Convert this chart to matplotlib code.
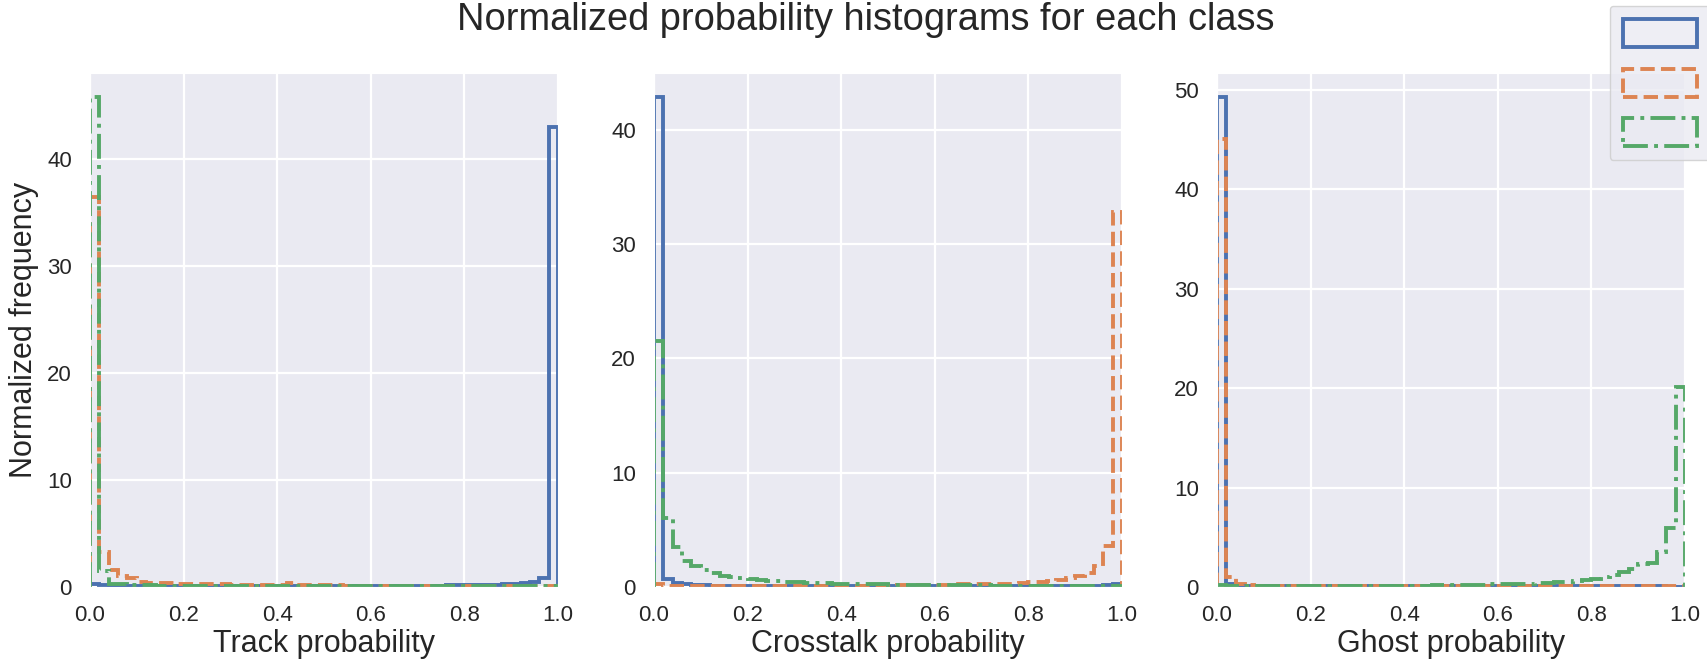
import numpy as np
import matplotlib
matplotlib.use("Agg")
import matplotlib.pyplot as plt
import seaborn as sns

# 50 bins of width 0.02 on [0, 1]
edges = np.linspace(0, 1, 51)
centers = (edges[:-1] + edges[1:]) / 2

# normalized frequency per bin
# --- track probability panel
track_track = [0.3, 0.15, 0.12, 0.1, 0.1, 0.1, 0.1, 0.1, 0.1, 0.1,
               0.1, 0.1, 0.1, 0.1, 0.1, 0.1, 0.1, 0.1, 0.1, 0.1,
               0.1, 0.1, 0.1, 0.1, 0.1, 0.1, 0.1, 0.1, 0.1, 0.1,
               0.1, 0.1, 0.12, 0.12, 0.12, 0.13, 0.13, 0.14, 0.15, 0.16,
               0.17, 0.18, 0.2, 0.22, 0.25, 0.3, 0.4, 0.5, 0.8, 43.0]
track_cross = [36.5, 3.3, 1.6, 1.0, 0.8, 0.5, 0.4, 0.4, 0.35, 0.32,
               0.3, 0.28, 0.26, 0.25, 0.24, 0.22, 0.22, 0.2, 0.2, 0.2,
               0.2, 0.4, 0.2, 0.18, 0.16, 0.15, 0.15, 0.14, 0.13, 0.12,
               0.12, 0.12, 0.1, 0.1, 0.1, 0.1, 0.1, 0.1, 0.1, 0.1,
               0.1, 0.1, 0.1, 0.1, 0.1, 0.1, 0.1, 0.1, 0.1, 0.1]
track_ghost = [45.8, 1.5, 0.25, 0.3, 0.2, 0.15, 0.15, 0.12, 0.1, 0.1,
               0.1, 0.1, 0.1, 0.1, 0.1, 0.1, 0.1, 0.1, 0.1, 0.1,
               0.1, 0.1, 0.1, 0.1, 0.1, 0.1, 0.1, 0.1, 0.1, 0.1,
               0.1, 0.1, 0.1, 0.1, 0.1, 0.1, 0.1, 0.1, 0.1, 0.1,
               0.1, 0.1, 0.1, 0.1, 0.1, 0.1, 0.1, 0.1, 0.08, 0.05]

# --- crosstalk probability panel
cross_track = [42.8, 0.7, 0.35, 0.25, 0.2, 0.15, 0.12, 0.1, 0.1, 0.1,
               0.1, 0.1, 0.1, 0.1, 0.1, 0.1, 0.1, 0.1, 0.1, 0.1,
               0.1, 0.1, 0.1, 0.1, 0.1, 0.1, 0.1, 0.1, 0.1, 0.1,
               0.1, 0.1, 0.1, 0.1, 0.1, 0.1, 0.1, 0.1, 0.1, 0.1,
               0.1, 0.1, 0.1, 0.1, 0.1, 0.1, 0.1, 0.12, 0.15, 0.25]
cross_cross = [0.25, 0.1, 0.08, 0.08, 0.08, 0.08, 0.08, 0.08, 0.08, 0.08,
               0.08, 0.08, 0.08, 0.08, 0.08, 0.08, 0.08, 0.08, 0.1, 0.1,
               0.1, 0.1, 0.1, 0.1, 0.12, 0.12, 0.15, 0.2, 0.15, 0.15,
               0.18, 0.2, 0.22, 0.25, 0.25, 0.28, 0.3, 0.3, 0.3, 0.35,
               0.4, 0.45, 0.5, 0.6, 0.75, 0.95, 1.2, 1.8, 3.6, 32.8]
cross_ghost = [21.5, 6.0, 3.5, 2.3, 1.8, 1.5, 1.2, 1.0, 0.9, 0.8,
               0.7, 0.6, 0.55, 0.5, 0.45, 0.4, 0.38, 0.35, 0.32, 0.3,
               0.28, 0.26, 0.25, 0.24, 0.22, 0.21, 0.2, 0.2, 0.19, 0.18,
               0.17, 0.16, 0.15, 0.15, 0.14, 0.14, 0.13, 0.13, 0.12, 0.12,
               0.12, 0.11, 0.11, 0.1, 0.1, 0.1, 0.1, 0.1, 0.1, 0.1]

# --- ghost probability panel
ghost_track = [49.2, 0.3, 0.15, 0.1, 0.08, 0.08, 0.08, 0.08, 0.08, 0.08,
               0.08, 0.08, 0.08, 0.08, 0.08, 0.08, 0.08, 0.08, 0.08, 0.08,
               0.08, 0.08, 0.08, 0.08, 0.08, 0.08, 0.08, 0.08, 0.08, 0.08,
               0.08, 0.08, 0.08, 0.08, 0.08, 0.08, 0.08, 0.08, 0.08, 0.08,
               0.08, 0.08, 0.08, 0.08, 0.08, 0.08, 0.06, 0.06, 0.05, 0.05]
ghost_cross = [45.0, 1.0, 0.35, 0.2, 0.12, 0.1, 0.1, 0.1, 0.1, 0.1,
               0.1, 0.1, 0.1, 0.1, 0.1, 0.1, 0.1, 0.1, 0.1, 0.1,
               0.1, 0.1, 0.1, 0.1, 0.1, 0.1, 0.1, 0.1, 0.1, 0.1,
               0.1, 0.1, 0.1, 0.1, 0.1, 0.1, 0.1, 0.1, 0.1, 0.1,
               0.1, 0.1, 0.1, 0.1, 0.1, 0.1, 0.1, 0.1, 0.1, 0.1]
ghost_ghost = [0.25, 0.12, 0.1, 0.1, 0.1, 0.1, 0.1, 0.1, 0.1, 0.1,
               0.1, 0.1, 0.1, 0.1, 0.12, 0.12, 0.12, 0.12, 0.13, 0.13,
               0.14, 0.15, 0.15, 0.16, 0.17, 0.18, 0.2, 0.22, 0.25, 0.28,
               0.3, 0.3, 0.32, 0.35, 0.4, 0.45, 0.5, 0.55, 0.6, 0.7,
               0.85, 1.0, 1.2, 1.5, 1.8, 2.3, 2.4, 3.5, 5.9, 20.1]

xlabels = ["Track probability", "Crosstalk probability", "Ghost probability"]
panels = [
    [track_track, track_cross, track_ghost],
    [cross_track, cross_cross, cross_ghost],
    [ghost_track, ghost_cross, ghost_ghost],
]
yticks = [[0, 10, 20, 30, 40], [0, 10, 20, 30, 40], [0, 10, 20, 30, 40, 50]]

sns.set_style("darkgrid")
plt.rcParams["font.family"] = ["Liberation Sans", "DejaVu Sans"]
plt.rcParams["text.color"] = ".15"

colors = sns.color_palette("deep")[:3]
styles = ["-", "--", "-."]

W, H = 1708, 662
fig = plt.figure(figsize=(W / 100, H / 100), dpi=100)
lefts = [90, 654, 1217]
ax_w = 468
top, bottom = 73, 587

handles = None
for i in range(3):
    ax = fig.add_axes([lefts[i] / W, 1 - bottom / H, ax_w / W, (bottom - top) / H])
    patches = []
    for vals, c, ls in zip(panels[i], colors, styles):
        _, _, p = ax.hist(centers, bins=edges, weights=vals, histtype="step",
                          color=c, linestyle=ls, linewidth=2.8)
        patches.append(p[0])
    handles = patches
    ax.set_xlim(0, 1)
    ax.set_xticks([0, 0.2, 0.4, 0.6, 0.8, 1.0])
    ax.set_yticks(yticks[i])
    ax.tick_params(axis="both", labelsize=16, pad=13, colors=".15", length=0)
    ax.set_xlabel(xlabels[i], fontsize=22, labelpad=2)
    ax.grid(True, color="white", linewidth=1.6)
    if i == 0:
        ax.set_ylabel("Normalized frequency", fontsize=22)
        ax.yaxis.set_label_coords(-0.109, 0.5)

fig.suptitle("Normalized probability histograms for each class",
             fontsize=27.4, x=0.507, y=0.997, va="top")

F = 12 * 100 / 72
fig.legend(handles, ["", "", ""], loc="upper left",
           bbox_to_anchor=(1610 / W, 1 - 6 / H), bbox_transform=fig.transFigure,
           fontsize=12, handlelength=74 / F, handleheight=2.21,
           labelspacing=1.29, borderpad=0.8, borderaxespad=0, frameon=True)

fig.savefig("out.png", dpi=100)
